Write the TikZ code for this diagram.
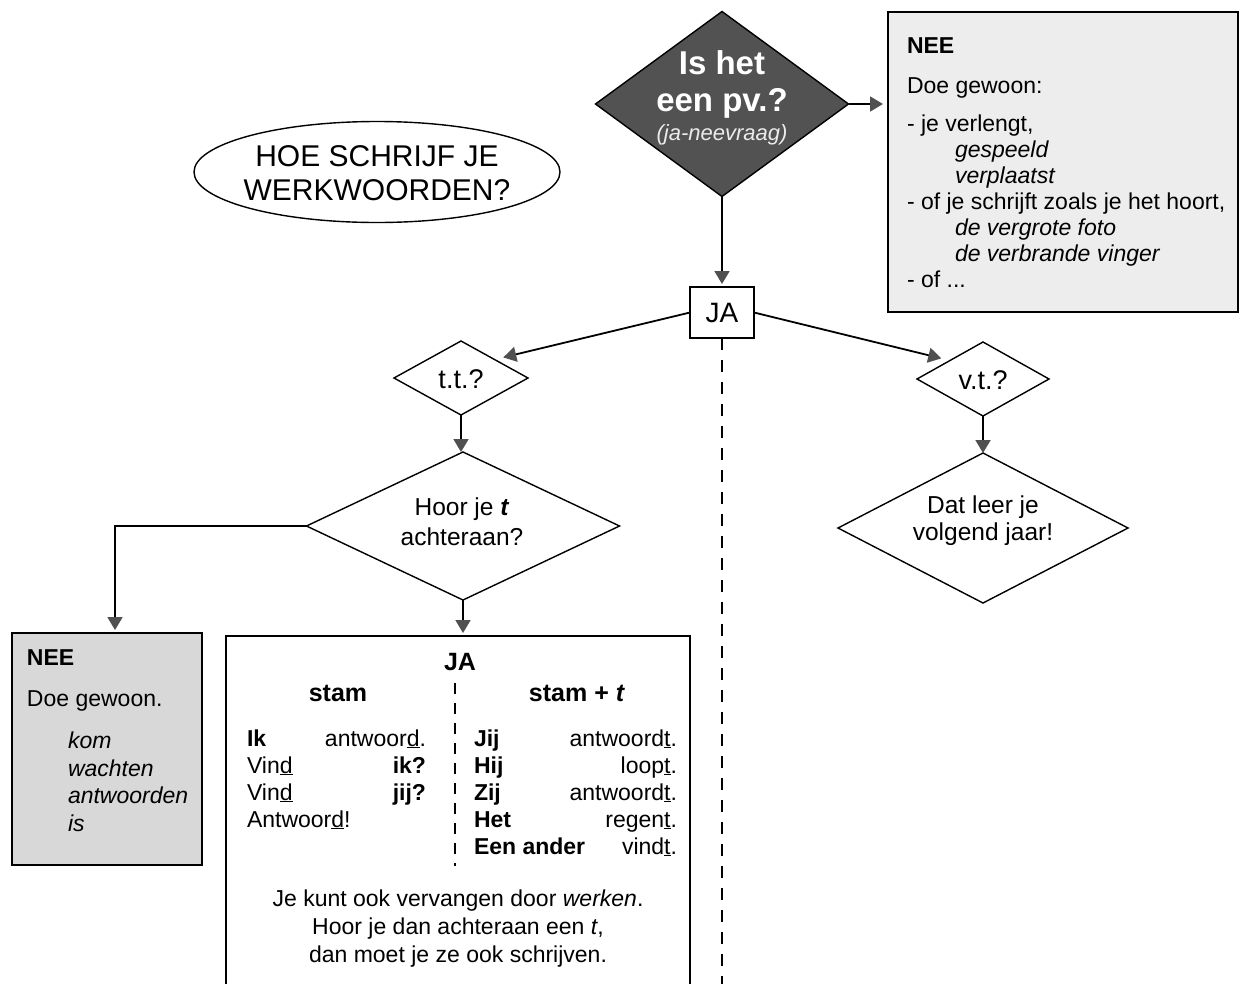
\documentclass[tikz,border=0pt]{standalone}
\usepackage{fontspec}
\setmainfont{Liberation Sans}
\usetikzlibrary{shapes.geometric,arrows.meta,calc}
\definecolor{pvfill}{RGB}{82,82,82}
\definecolor{tipgray}{RGB}{80,80,80}
\definecolor{neeA}{RGB}{237,237,237}
\definecolor{neeB}{RGB}{216,216,216}
\begin{document}
\begin{tikzpicture}[x=1pt,y=-1pt,
  fs/.style={font=\fontsize{#1}{#1}\selectfont},
  dia/.style={diamond, draw=black, line width=1.4pt, inner sep=0pt, outer sep=0pt},
  conn/.style={line width=1.8pt, -{Triangle[length=13pt,width=15pt,color=tipgray,fill=tipgray]}},
  boxx/.style={draw=black, line width=1.8pt, rectangle, inner sep=0pt, outer sep=0pt},
  txt/.style={inner sep=0pt, outer sep=0pt},
  dashline/.style={line width=2.2pt, dash pattern=on 12pt off 10pt}
]
\useasboundingbox (0,0) rectangle (1241,983);
\fill[white] (0,0) rectangle (1241,983);

% ---- shapes ----
\node[dia, fill=pvfill, minimum width=253, minimum height=185] (pv) at (722,104) {};
\node[boxx, fill=neeA, minimum width=350, minimum height=300] (neeR) at (1063,162) {};
\node[draw=black, line width=1.4pt, ellipse, minimum width=366, minimum height=101, inner sep=0pt] (title) at (377,172) {};
\node[boxx, minimum width=64, minimum height=51] (ja) at (722,312.5) {};
\node[dia, minimum width=134, minimum height=74] (tt) at (461,378) {};
\node[dia, minimum width=132, minimum height=74] (vt) at (983,379) {};
\node[dia, minimum width=313, minimum height=148] (hoor) at (463,526) {};
\node[dia, minimum width=290, minimum height=150] (dat) at (983,528) {};
\node[boxx, fill=neeB, minimum width=190, minimum height=232] (neeL) at (107,749) {};
\node[boxx, minimum width=464, minimum height=380] (big) at (458,826) {};

% ---- connectors ----
\draw[conn, shorten >=5pt] (pv.east) -- (pv.east -| neeR.west);
\draw[conn, shorten >=3pt] (pv.south) -- (ja.north);
\draw[conn, shorten >=9pt] (ja.west) -- (tt.north east);
\draw[conn, shorten >=9pt] (ja.east) -- (vt.north west);
\coordinate (dashend) at (722,995);
\draw[dashline] (ja.south) -- (dashend);
\draw[conn] (tt.south) -- (tt.south |- hoor.north);
\draw[conn] (vt.south) -- (vt.south |- dat.north);
\draw[conn, shorten >=3pt] (hoor.south) -- (hoor.south |- big.north);
\coordinate (neeLtop) at ($(neeL.north)+(8,0)$);
\draw[conn, shorten >=3pt] (hoor.west) -| (neeLtop);
\coordinate (dsA) at (455,683);
\coordinate (dsB) at (455,866);
\draw[dashline, line width=2pt, dash pattern=on 11pt off 9pt] (dsA) -- (dsB);

% ---- texts ----
\node[txt, anchor=base, text=white, font=\bfseries\fontsize{33}{33}\selectfont] (pv1) at (722,74) {Is het};
\node[txt, anchor=base, text=white, font=\bfseries\fontsize{33}{33}\selectfont] (pv2) at (722,111) {een pv.?};
\node[txt, anchor=base, text=white!92!black, font=\itshape\fontsize{22}{22}\selectfont] (pv3) at (722,140) {(ja-neevraag)};

\node[txt, anchor=base, fs=30] (t1) at (377,166) {HOE SCHRIJF JE};
\node[txt, anchor=base, fs=30] (t2) at (377,200) {WERKWOORDEN?};

\node[txt, anchor=base, fs=28] (jat) at (ja.center |- 0,322) {JA};
\node[txt, anchor=base, fs=27] (ttt) at (461,388) {t.t.?};
\node[txt, anchor=base, fs=27] (vtt) at (983,389) {v.t.?};
\node[txt, anchor=base, fs=24.5] (h1) at (462,515) {Hoor je \textbf{\textit{t}}};
\node[txt, anchor=base, fs=24.5] (h2) at (462,545) {achteraan?};
\node[txt, anchor=base, fs=24.5] (d1) at (983,513) {Dat leer je};
\node[txt, anchor=base, fs=24.5] (d2) at (983,540) {volgend jaar!};

% top-right NEE box
\foreach \yy/\xx/\tt [count=\i] in {
  53/907/{\bfseries NEE},
  93/907/{Doe gewoon:},
  131/907/{- je verlengt,},
  157/955/{\itshape gespeeld},
  183/955/{\itshape verplaatst},
  209/907/{- of je schrijft zoals je het hoort,},
  235/955/{\itshape de vergrote foto},
  261/955/{\itshape de verbrande vinger},
  287/907/{- of ...}}
  \node[txt, anchor=base west, fs=23] (nr\i) at (\xx,\yy) {\tt};

% left NEE box
\foreach \yy/\xx/\tt [count=\i] in {
  665/27/{\bfseries NEE},
  706/27/{Doe gewoon.},
  748/68/{\itshape kom},
  776/68/{\itshape wachten},
  803/68/{\itshape antwoorden},
  831/68/{\itshape is}}
  \node[txt, anchor=base west, fs=23] (nl\i) at (\xx,\yy) {\tt};

% big JA box
\node[txt, anchor=base, font=\bfseries\fontsize{25}{25}\selectfont] (bja) at (460,670) {JA};
\node[txt, anchor=base, font=\bfseries\fontsize{25}{25}\selectfont] (bst1) at (338,701) {stam};
\node[txt, anchor=base, font=\bfseries\fontsize{25}{25}\selectfont] (bst2) at (577,701) {stam + \textit{t}};

\foreach \yy/\aa/\bb [count=\i] in {
  746/{\bfseries Ik}/{antwoor\underline{d}.},
  773/{Vin\underline{d}}/{\bfseries ik?},
  800/{Vin\underline{d}}/{\bfseries jij?},
  827/{Antwoor\underline{d}!}/{}}
  {\node[txt, anchor=base west, fs=23] (la\i) at (247,\yy) {\aa};
   \node[txt, anchor=base east, fs=23] (lb\i) at (426,\yy) {\bb};}

\foreach \yy/\aa/\bb [count=\i] in {
  746/{Jij}/{antwoord\underline{t}.},
  773/{Hij}/{loop\underline{t}.},
  800/{Zij}/{antwoord\underline{t}.},
  827/{Het}/{regen\underline{t}.},
  854/{Een ander}/{vind\underline{t}.}}
  {\node[txt, anchor=base west, font=\bfseries\fontsize{23}{23}\selectfont] (ra\i) at (474,\yy) {\aa};
   \node[txt, anchor=base east, fs=23] (rb\i) at (677,\yy) {\bb};}

\node[txt, anchor=base, fs=23] (bt1) at (458,906) {Je kunt ook vervangen door \textit{werken}.};
\node[txt, anchor=base, fs=23] (bt2) at (458,934) {Hoor je dan achteraan een \textit{t},};
\node[txt, anchor=base, fs=23] (bt3) at (458,962) {dan moet je ze ook schrijven.};
\end{tikzpicture}
\end{document}
